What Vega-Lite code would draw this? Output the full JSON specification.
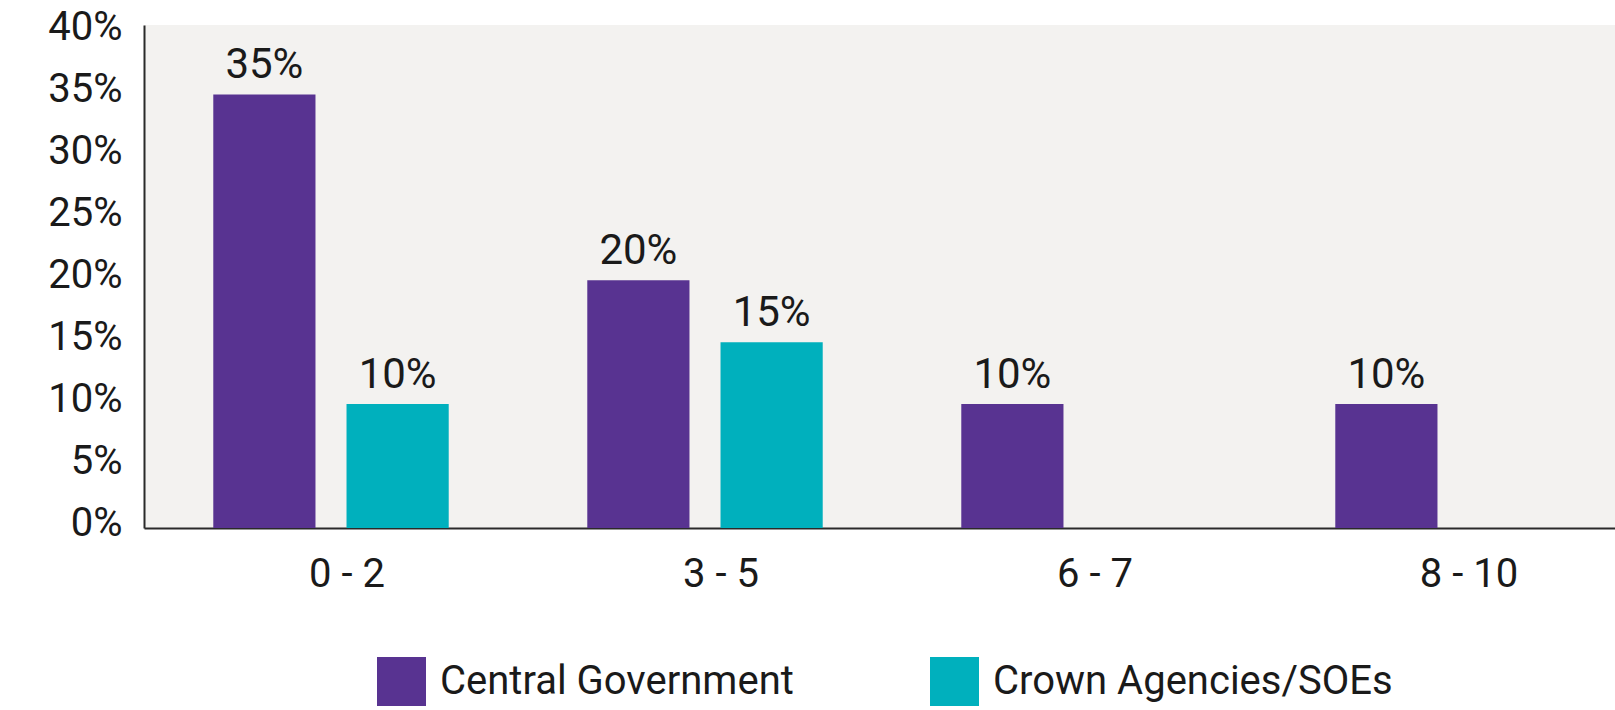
{
  "$schema": "https://vega.github.io/schema/vega-lite/v6.json",
  "width": 1471,
  "height": 503,
  "autosize": {"type": "none"},
  "padding": {"left": 144, "top": 25, "right": 0, "bottom": 182},
  "background": "white",
  "data": {
    "values": [
      {"range": "0 - 2", "sector": "Central Government", "share": 0.35},
      {"range": "0 - 2", "sector": "Crown Agencies/SOEs", "share": 0.10},
      {"range": "3 - 5", "sector": "Central Government", "share": 0.20},
      {"range": "3 - 5", "sector": "Crown Agencies/SOEs", "share": 0.15},
      {"range": "6 - 7", "sector": "Central Government", "share": 0.10},
      {"range": "8 - 10", "sector": "Central Government", "share": 0.10}
    ]
  },
  "encoding": {
    "x": {
      "field": "range",
      "type": "nominal",
      "sort": ["0 - 2", "3 - 5", "6 - 7", "8 - 10"],
      "scale": {"range": [0, 1496], "paddingInner": 0, "paddingOuter": 0},
      "axis": {
        "title": null,
        "ticks": false,
        "labelAngle": 0,
        "labelFontSize": 40,
        "labelPadding": 26,
        "labelOffset": 16,
        "labelColor": "#1a1a1a",
        "domainColor": "#2a2a2a",
        "domainWidth": 2
      }
    },
    "xOffset": {
      "field": "sector",
      "type": "nominal",
      "sort": ["Central Government", "Crown Agencies/SOEs"],
      "scale": {"paddingInner": 0.233, "paddingOuter": 0.52}
    },
    "y": {
      "field": "share",
      "type": "quantitative",
      "scale": {"domain": [0, 0.406], "nice": false},
      "axis": {
        "title": null,
        "values": [0, 0.05, 0.1, 0.15, 0.2, 0.25, 0.3, 0.35, 0.4],
        "format": ".0%",
        "grid": false,
        "ticks": false,
        "labelFontSize": 40,
        "labelPadding": 22,
        "labelOffset": -5,
        "labelColor": "#1a1a1a",
        "domainColor": "#2a2a2a",
        "domainWidth": 2
      }
    }
  },
  "layer": [
    {
      "mark": {"type": "bar"},
      "encoding": {
        "color": {
          "field": "sector",
          "type": "nominal",
          "scale": {
            "domain": ["Central Government", "Crown Agencies/SOEs"],
            "range": ["#583391", "#00b0bd"]
          },
          "legend": {
            "orient": "none",
            "legendX": 233,
            "legendY": 632,
            "direction": "horizontal",
            "title": null,
            "symbolType": "square",
            "symbolSize": 2401,
            "symbolStrokeWidth": 0,
            "labelFontSize": 40,
            "labelOffset": 14,
            "labelColor": "#1a1a1a",
            "labelLimit": 0,
            "columnPadding": 136,
            "padding": 0
          }
        }
      }
    },
    {
      "mark": {
        "type": "text",
        "baseline": "bottom",
        "dy": -7,
        "fontSize": 42,
        "color": "#1a1a1a"
      },
      "encoding": {
        "text": {"field": "share", "type": "quantitative", "format": ".0%"}
      }
    }
  ],
  "config": {
    "font": "Roboto",
    "view": {"fill": "#f3f2f0", "stroke": null}
  }
}
